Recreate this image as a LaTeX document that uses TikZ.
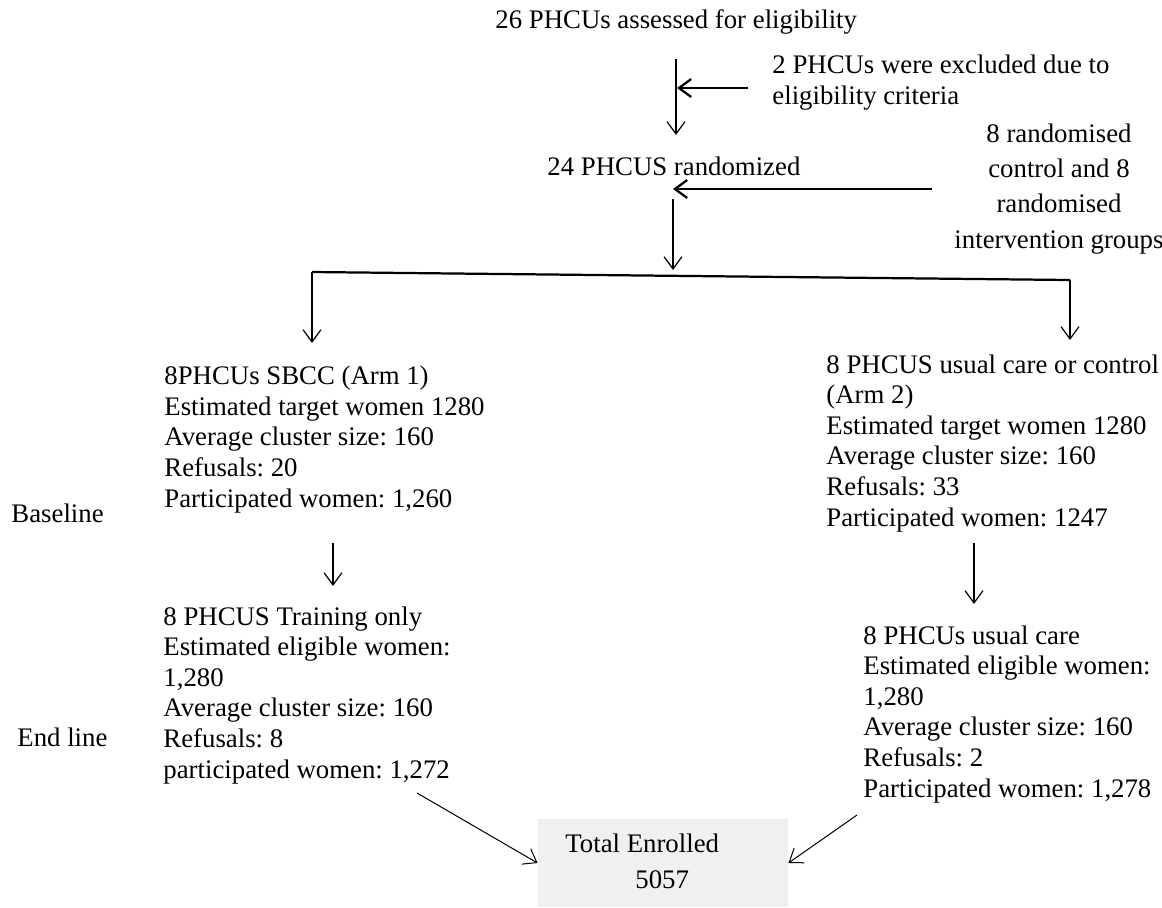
\documentclass[tikz,border=0pt]{standalone}
\usepackage{fontspec}
\setmainfont{Liberation Serif}
\usetikzlibrary{arrows.meta, positioning, calc}

\definecolor{boxgray}{HTML}{F0F0F0}
\frenchspacing

\tikzset{
  txt/.style={inner sep=0pt, align=left, anchor=base west,
              font=\fontsize{12}{13.7}\selectfont},
  arr/.style={-{Straight Barb[length=5.5pt, width=8pt]}, line width=0.55pt},
  bigarr/.style={arr, line width=1pt},
}

\begin{document}
\begin{tikzpicture}[x=0.448pt, y=-0.448pt]
  \useasboundingbox (0,0) rectangle (1162,907);

  % screening and randomisation (multi-line texts sit on their last line)
  \node[txt] (title) at (495,28) {26 PHCUs assessed for eligibility};
  \node[txt] (excl) at (772,104) {2 PHCUs were excluded due to\\eligibility criteria};
  \node[txt] (rand) at (547,175) {24 PHCUS randomized};
  \node[txt, align=center, anchor=base, font=\fontsize{12}{15.7}\selectfont]
    (alloc) at (1059,248) {8 randomised\\control and 8\\randomised\\intervention groups};

  \coordinate (s1) at (676,59);  \coordinate (s2) at (676,135);
  \coordinate (x1) at (748,88);  \coordinate (x2) at (677,88);
  \coordinate (r1) at (932,189); \coordinate (r2) at (673,189);
  \coordinate (r3) at (673,199); \coordinate (r4) at (673,270);
  \draw[arr] (s1) -- (s2);
  \draw[bigarr] (x1) -- (x2);
  \draw[bigarr] (r1) -- (r2);
  \draw[arr] (r3) -- (r4);

  % split into the two arms
  \coordinate (sl) at (312,272); \coordinate (sr) at (1070,280);
  \coordinate (al) at (312,343); \coordinate (ar) at (1070,340);
  \draw[line width=1pt] (sl) -- (sr);
  \draw[arr] (sl) -- (al);
  \draw[arr] (sr) -- (ar);

  % baseline
  \node[txt] (base) at (11,522) {Baseline};
  \node[txt] (arm1) at (164,507) {8PHCUs SBCC (Arm 1)\\Estimated target women 1280\\Average cluster size: 160\\Refusals: 20\\Participated women: 1,260};
  \node[txt] (arm2) at (826,526) {8 PHCUS usual care or control\\(Arm 2)\\Estimated target women 1280\\Average cluster size: 160\\Refusals: 33\\Participated women: 1247};

  \coordinate (d1) at (333,543); \coordinate (d2) at (333,586);
  \coordinate (d3) at (974,543); \coordinate (d4) at (974,604);
  \draw[arr] (d1) -- (d2);
  \draw[arr] (d3) -- (d4);

  % end line
  \node[txt] (endl) at (17,746) {End line};
  \node[txt] (end1) at (163,778) {8 PHCUS Training only\\Estimated eligible women:\\1,280\\Average cluster size: 160\\Refusals: 8\\participated women: 1,272};
  \node[txt] (end2) at (863,797) {8 PHCUs usual care\\Estimated eligible women:\\1,280\\Average cluster size: 160\\Refusals: 2\\Participated women: 1,278};

  % total
  \node[fill=boxgray, inner sep=0pt, minimum width=112pt, minimum height=39.4pt]
    (total) at (663,863) {};
  \node[txt] (totaltxt) at (565,852) {Total Enrolled};
  \node[txt] (totalnum) at (635,888) {5057};

  \coordinate (e1) at (417,793); \coordinate (e2) at (857,815);
  \draw[arr, line width=0.45pt] (e1) -- (total.west);
  \draw[arr, line width=0.45pt] (e2) -- (total.east);
\end{tikzpicture}
\end{document}
